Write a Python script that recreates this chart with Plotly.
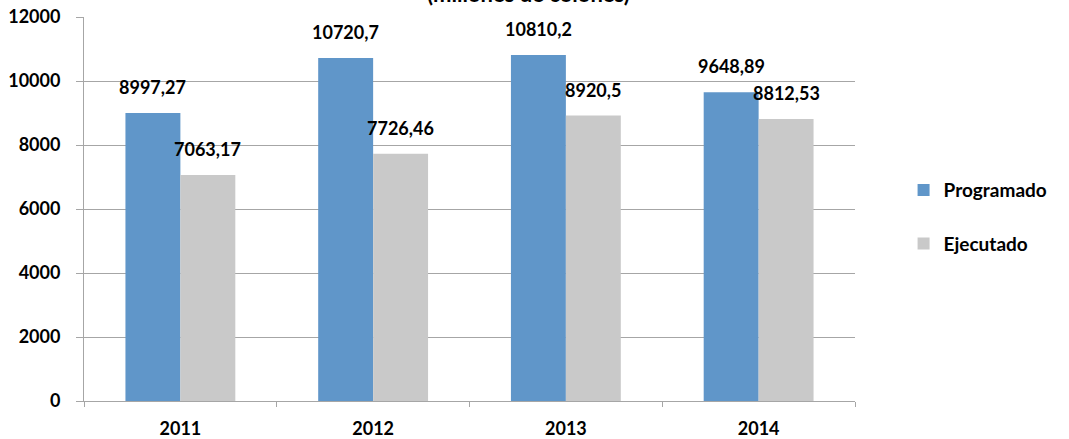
import plotly.graph_objects as go

years = ["2011", "2012", "2013", "2014"]
programado = [8997.27, 10720.7, 10810.2, 9648.89]
ejecutado = [7063.17, 7726.46, 8920.5, 8812.53]
prog_labels = ["8997,27", "10720,7", "10810,2", "9648,89"]
ejec_labels = ["7063,17", "7726,46", "8920,5", "8812,53"]
y_ticks = [0, 2000, 4000, 6000, 8000, 10000, 12000]

FONT = "Lato"
BLUE = "#6096C9"
GRAY = "#C9C9C9"
AX = "#A6A6A6"

fig = go.Figure()
fig.add_trace(go.Bar(x=years, y=programado, name="Programado", marker=dict(color=BLUE, line=dict(width=0)),
                     legendgroup="a"))
fig.add_trace(go.Bar(x=years, y=ejecutado, name="Ejecutado", marker=dict(color=GRAY, line=dict(width=0)),
                     legendgroup="b"))

annotations = []
for i, (v, t) in enumerate(zip(programado, prog_labels)):
    annotations.append(dict(x=i, y=v, text=t, xref="x", yref="y", showarrow=False,
                            xshift=-27.5, yshift=13, yanchor="bottom",
                            font=dict(family=FONT, size=18, color="black", weight="bold")))
for i, (v, t) in enumerate(zip(ejecutado, ejec_labels)):
    annotations.append(dict(x=i, y=v, text=t, xref="x", yref="y", showarrow=False,
                            xshift=27.5, yshift=13, yanchor="bottom",
                            font=dict(family=FONT, size=18, color="black", weight="bold")))
annotations.append(dict(x=0.577, y=1.021, xref="paper", yref="paper", showarrow=False,
                        text="(millones de colones)", yanchor="bottom",
                        font=dict(family=FONT, size=22, color="black", weight="bold")))

fig.update_layout(
    width=1069, height=439,
    margin=dict(l=84, r=214, t=17, b=38),
    paper_bgcolor="white", plot_bgcolor="white",
    barmode="group", bargap=0.43, bargroupgap=0,
    font=dict(family=FONT, size=17, color="black"),
    annotations=annotations,
    legend=dict(x=1.063, y=0.479, xanchor="left", yanchor="middle",
                font=dict(family=FONT, size=19, color="black", weight="bold"),
                traceorder="grouped", tracegroupgap=26, itemwidth=30),
    xaxis=dict(type="category", range=[-0.5, len(years) - 0.5], showline=True, linecolor=AX,
               linewidth=1, ticks="outside", tickson="boundaries", ticklen=5, tickcolor=AX,
               ticklabelstandoff=11, automargin=False, ticklabeloverflow="allow",
               tickfont=dict(family=FONT, size=18, weight="bold"), showgrid=False),
    yaxis=dict(range=[0, 12000], tickvals=y_ticks, tickformat="d", showline=True, linecolor=AX,
               linewidth=1, ticks="outside", ticklen=7, tickcolor=AX, gridcolor=AX, automargin=False,
               gridwidth=1, ticklabelstandoff=12, ticklabeloverflow="allow",
               tickfont=dict(family=FONT, size=18, weight="bold"), zeroline=False),
)

fig.write_html("out.html", config={"displayModeBar": False},
               post_script="document.body.style.margin='0';")
